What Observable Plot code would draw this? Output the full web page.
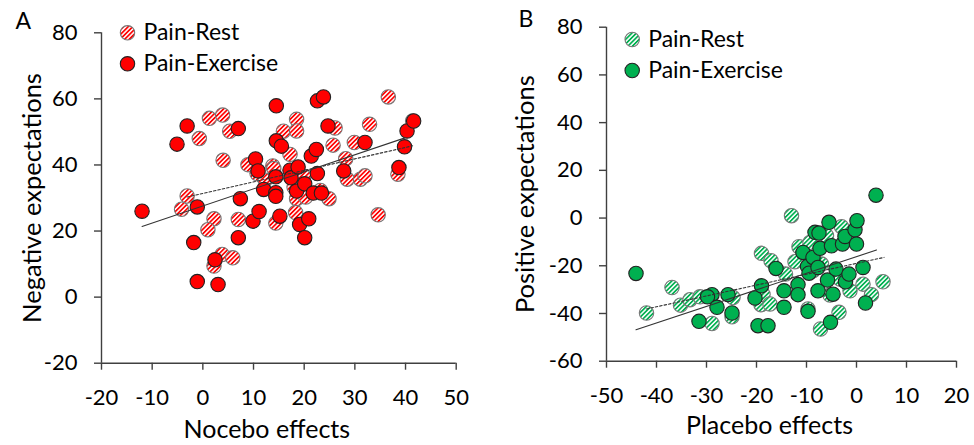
<!DOCTYPE html>
<html>
<head>
<meta charset="utf-8">
<script src="https://cdn.jsdelivr.net/npm/d3@7"></script>
<script src="https://cdn.jsdelivr.net/npm/@observablehq/plot@0.6"></script>
<style>
  body { margin: 0; background: #fff; }
  #wrap { display: flex; width: 974px; height: 445px; }
  svg { font-family: Lato, "Open Sans", sans-serif; }
</style>
</head>
<body>
<div id="wrap"></div>
<script>
// ---------- Panel A data ----------
const xTicksA = [-20, -10, 0, 10, 20, 30, 40, 50];
const yTicksA = [-20, 0, 20, 40, 60, 80];
const restA = [
  [-3.1, 30.6], [-4.2, 26.6], [-0.7, 48.0], [1.3, 54.1], [3.9, 55.1], [5.3, 50.2],
  [4.0, 41.4], [2.2, 23.7], [1.0, 20.4], [2.2, 9.4], [3.8, 12.9], [5.9, 11.9],
  [7.0, 23.5], [8.9, 40.1], [10.7, 37.4], [12.3, 35.4], [13.8, 39.7], [14.0, 38.9],
  [14.4, 22.4], [15.9, 50.2], [17.2, 43.2], [18.5, 53.8], [18.5, 50.3], [18.0, 33.3],
  [18.5, 29.8], [18.3, 25.6], [19.9, 36.6], [20.3, 30.3], [23.2, 32.3], [24.9, 29.8],
  [26.1, 51.2], [25.7, 46.0], [28.2, 41.9], [28.5, 35.7], [29.9, 46.8], [31.1, 35.7],
  [32.0, 36.7], [32.9, 52.3], [34.6, 24.9], [36.6, 60.6], [38.5, 37.2], [41.4, 53.3]
];
const exerciseA = [
  [-12.0, 26.0], [-5.1, 46.3], [-3.1, 51.8], [-1.1, 27.3], [-1.8, 16.5], [-1.1, 4.7],
  [3.0, 3.8], [2.4, 11.3], [7.0, 51.0], [7.4, 29.8], [7.0, 18.0], [9.9, 23.0],
  [11.1, 25.9], [10.4, 41.8], [10.9, 38.2], [12.0, 32.6], [14.5, 57.9], [14.5, 47.3],
  [15.5, 45.7], [14.4, 36.4], [14.4, 31.6], [14.4, 30.5], [15.2, 24.5], [17.2, 38.4],
  [17.4, 36.1], [18.8, 39.4], [18.5, 32.1], [19.1, 22.0], [20.1, 34.3], [20.1, 18.0],
  [20.9, 23.7], [21.4, 42.7], [22.4, 44.7], [22.6, 37.4], [21.8, 31.5], [23.4, 31.5],
  [22.6, 59.4], [23.8, 60.6], [24.7, 51.8], [27.8, 38.2], [32.0, 46.8], [38.7, 39.2],
  [39.8, 45.5], [40.3, 50.3], [41.6, 53.3]
];
const fitRestA = [[-3.1, 30.3], [41.4, 45.8]];
const fitExerciseA = [[-12.0, 21.4], [39.9, 48.2]];

// ---------- Panel B data ----------
const xTicksB = [-50, -40, -30, -20, -10, 0, 10, 20];
const yTicksB = [-60, -40, -20, 0, 20, 40, 60, 80];
const restB = [
  [-42.0, -39.8], [-36.9, -29.1], [-35.2, -36.5], [-33.3, -34.2], [-31.3, -33.0],
  [-28.9, -44.2], [-24.9, -41.4], [-24.7, -33.3], [-19.0, -14.8], [-19.1, -36.3],
  [-18.7, -32.0], [-17.3, -36.0], [-17.1, -17.9], [-14.2, -23.5], [-13.0, 1.0],
  [-12.3, -18.3], [-11.5, -12.0], [-9.3, -10.2], [-9.7, -38.1], [-8.7, -22.1],
  [-7.0, -19.3], [-7.2, -46.5], [-6.0, -7.4], [-5.3, -32.3], [-3.5, -39.5],
  [-3.0, -3.6], [-3.3, -25.6], [-1.3, -30.5], [1.3, -27.7], [3.0, -32.1], [5.3, -26.7]
];
const exerciseB = [
  [-44.1, -23.2], [-31.5, -43.3], [-28.9, -32.1], [-29.8, -33.0], [-27.9, -37.4],
  [-25.7, -32.1], [-24.9, -39.8], [-20.3, -33.5], [-19.0, -28.4], [-19.7, -45.1],
  [-17.7, -45.1], [-16.1, -21.1], [-14.5, -30.5], [-14.5, -37.4], [-11.7, -27.9],
  [-11.7, -32.1], [-10.7, -14.4], [-9.8, -20.3], [-9.5, -23.1], [-9.7, -39.1],
  [-8.7, -16.5], [-8.3, -6.0], [-7.5, -6.3], [-7.7, -30.5], [-7.3, -12.7],
  [-7.7, -20.7], [-5.8, -26.0], [-5.5, -1.8], [-5.0, -11.6], [-4.7, -31.9],
  [-5.2, -43.7], [-4.1, -21.4], [-2.8, -10.9], [-2.3, -7.7], [-2.2, -26.7],
  [-1.5, -23.5], [-0.3, -4.9], [0.1, -1.1], [0.0, -10.9], [1.3, -20.7],
  [1.8, -35.6], [3.9, 9.6]
];
const fitRestB = [[-42.0, -38.1], [5.5, -16.5]];
const fitExerciseB = [[-44.1, -46.8], [4.0, -13.4]];

const legendLabels = ["Pain-Rest", "Pain-Exercise"];

const AXIS = "#404040";
const R = 7.2;
const FONT = "Lato, 'Open Sans', sans-serif";

function panel(o) {
  const [xMin, xMax] = [o.xTicks[0], o.xTicks[o.xTicks.length - 1]];
  const [yMin, yMax] = [o.yTicks[0], o.yTicks[o.yTicks.length - 1]];
  const hatchUrl = `url(#hatch-${o.id})`;
  const svg = Plot.plot({
    width: o.width,
    height: 445,
    marginLeft: o.ml, marginRight: o.mr, marginTop: o.mt, marginBottom: o.mb,
    x: { domain: [xMin, xMax] },
    y: { domain: [yMin, yMax] },
    style: { fontFamily: FONT, color: "#000", background: "#fff" },
    marks: [
      Plot.ruleX([xMin], { stroke: AXIS, strokeWidth: 1.4 }),
      Plot.ruleY([yMin], { stroke: AXIS, strokeWidth: 1.4 }),
      Plot.axisX({ ticks: o.xTicks, tickSize: 7, tickPadding: 19, fontSize: 22, stroke: AXIS, strokeWidth: 1.4, label: null, tickFormat: d => String(d) }),
      Plot.axisY({ ticks: o.yTicks, tickSize: 7, tickPadding: 17, fontSize: 22, stroke: AXIS, strokeWidth: 1.4, label: null, tickFormat: d => String(d) }),
      Plot.dot(o.rest, { x: d => d[0], y: d => d[1], r: R, fill: hatchUrl, stroke: "#777", strokeWidth: 1.1 }),
      Plot.dot(o.exercise, { x: d => d[0], y: d => d[1], r: R, fill: o.color, stroke: "#222", strokeWidth: 1.1 }),
      Plot.line(o.fitExercise, { x: d => d[0], y: d => d[1], stroke: "#333", strokeWidth: 1.1 }),
      Plot.line(o.fitRest, { x: d => d[0], y: d => d[1], stroke: "#333", strokeWidth: 1.1, strokeDasharray: "2.5,2" }),
      // legend
      Plot.dot([legendLabels[0]], { frameAnchor: "top-left", dx: o.legDx, dy: o.legDy, r: R, fill: hatchUrl, stroke: "#777", strokeWidth: 1.1 }),
      Plot.dot([legendLabels[1]], { frameAnchor: "top-left", dx: o.legDx, dy: o.legDy + 31, r: R, fill: o.color, stroke: "#222", strokeWidth: 1.1 }),
      Plot.text([legendLabels[0]], { frameAnchor: "top-left", dx: o.legDx + 16, dy: o.legDy, text: d => d, fontSize: 23, textAnchor: "start", lineAnchor: "middle", fill: "#000" }),
      Plot.text([legendLabels[1]], { frameAnchor: "top-left", dx: o.legDx + 16, dy: o.legDy + 31, text: d => d, fontSize: 23, textAnchor: "start", lineAnchor: "middle", fill: "#000" }),
      // axis titles
      Plot.text([o.yLabel], { frameAnchor: "left", dx: o.yLabDx, rotate: -90, text: d => d, fontSize: 25.5, fill: "#000", textAnchor: "middle", lineAnchor: "middle" }),
      Plot.text([o.xLabel], { frameAnchor: "bottom", dx: -12, dy: o.xLabDy, text: d => d, fontSize: 25, fill: "#000", textAnchor: "middle", lineAnchor: "middle" }),
      // panel letter
      Plot.text([o.letter], { frameAnchor: "top-left", dx: o.letDx, dy: o.letDy, text: d => d, fontSize: 23, fill: "#000", textAnchor: "start", lineAnchor: "top" })
    ]
  });
  svg.insertAdjacentHTML("afterbegin",
    `<defs><pattern id="hatch-${o.id}" patternUnits="userSpaceOnUse" width="3.2" height="3.2" patternTransform="rotate(45)">
      <rect width="3.2" height="3.2" fill="#fff"/><rect width="1.7" height="3.2" fill="${o.color}"/></pattern></defs>`);
  return svg;
}

const wrap = document.getElementById("wrap");
wrap.appendChild(panel({
  id: "A", width: 480, ml: 101, mr: 24.3, mt: 32.3, mb: 82.3,
  xTicks: xTicksA, yTicks: yTicksA, rest: restA, exercise: exerciseA,
  fitRest: fitRestA, fitExercise: fitExerciseA, color: "#ff0000",
  legDx: 26, legDy: 0, yLabel: "Negative expectations", xLabel: "Nocebo effects",
  yLabDx: -69, xLabDy: 67, letter: "A", letDx: -86, letDy: -20
}));
wrap.appendChild(panel({
  id: "B", width: 494, ml: 126, mr: 18, mt: 26.7, mb: 84.3,
  xTicks: xTicksB, yTicks: yTicksB, rest: restB, exercise: exerciseB,
  fitRest: fitRestB, fitExercise: fitExerciseB, color: "#00b050",
  legDx: 25.7, legDy: 12.3, yLabel: "Positive expectations", xLabel: "Placebo effects",
  yLabDx: -81, xLabDy: 65, letter: "B", letDx: -88, letDy: -17
}));
</script>
</body>
</html>
